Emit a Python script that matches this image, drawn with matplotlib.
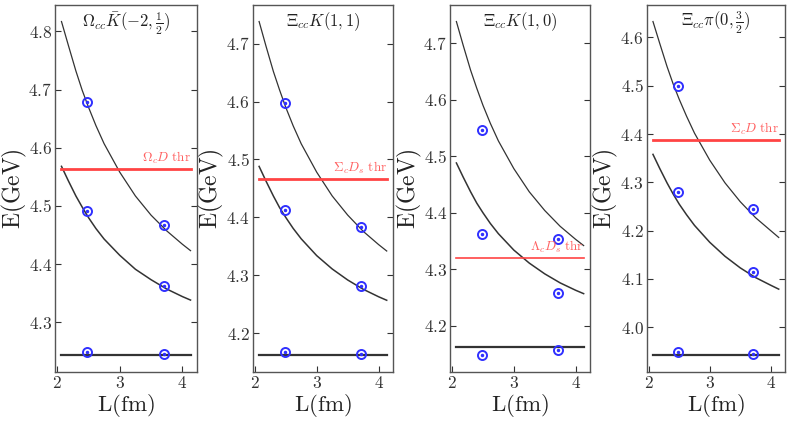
import matplotlib
matplotlib.use("Agg")
import matplotlib.pyplot as plt
from matplotlib.ticker import MultipleLocator, FixedLocator, FuncFormatter

plt.rcParams['mathtext.fontset'] = 'cm'
plt.rcParams['font.family'] = ['DejaVu Serif']

# ---------------- data ----------------
titles = [r'$\Omega_{cc}\bar{K}(-2,\frac{1}{2})$', r'$\Xi_{cc}K(1,1)$',
          r'$\Xi_{cc}K(1,0)$', r'$\Xi_{cc}\pi(0,\frac{3}{2})$']
thr_labels = [r'$\Omega_c D\ \mathrm{thr}$', r'$\Sigma_c D_s\ \mathrm{thr}$',
              r'$\Lambda_c D_s\ \mathrm{thr}$', r'$\Sigma_c D\ \mathrm{thr}$']
thr_values = [4.563, 4.466, 4.320, 4.3875]

L_points = [2.48, 3.71]
pts_p1 = [[4.679, 4.492, 4.248], [4.467, 4.363, 4.245]]
pts_p2 = [[4.598, 4.413, 4.168], [4.384, 4.281, 4.164]]
pts_p3 = [[4.546, 4.363, 4.148], [4.354, 4.258, 4.157]]
pts_p4 = [[4.500, 4.280, 3.949], [4.245, 4.115, 3.944]]
points = [pts_p1, pts_p2, pts_p3, pts_p4]

thresh_line = [4.243, 4.162, 4.162, 3.942]

L_curve = [2.07, 2.18, 2.3, 2.4, 2.5, 2.62, 2.75, 3.0, 3.25, 3.5, 3.75, 4.0, 4.13]
c1_lo = [4.568, 4.543, 4.517, 4.498, 4.480, 4.461, 4.443, 4.415, 4.391, 4.373, 4.357, 4.344, 4.338]
c1_hi = [4.817, 4.776, 4.732, 4.699, 4.670, 4.638, 4.607, 4.558, 4.517, 4.484, 4.457, 4.434, 4.423]
c2_lo = [4.488, 4.463, 4.437, 4.417, 4.400, 4.381, 4.363, 4.334, 4.311, 4.292, 4.276, 4.263, 4.257]
c2_hi = [4.738, 4.696, 4.652, 4.620, 4.590, 4.558, 4.527, 4.478, 4.437, 4.404, 4.376, 4.353, 4.342]
c4_lo = [4.358, 4.329, 4.299, 4.276, 4.255, 4.233, 4.211, 4.176, 4.147, 4.123, 4.103, 4.087, 4.079]
c4_hi = [4.633, 4.588, 4.540, 4.504, 4.472, 4.437, 4.402, 4.346, 4.299, 4.260, 4.227, 4.200, 4.186]
curves = [(c1_lo, c1_hi), (c2_lo, c2_hi), (c2_lo, c2_hi), (c4_lo, c4_hi)]

# ---------------- layout ----------------
W, H = 793, 422
fig = plt.figure(figsize=(W / 100, H / 100), dpi=100)
lefts = [0.0694, 0.3187, 0.5675, 0.8155]
widths = [0.179, 0.177, 0.1765, 0.1744]
bottom, height = 0.1185, 0.870
thr_lw = [2.0, 2.0, 1.2, 2.0]
red = '#ff4444'

for i in range(4):
    ax = fig.add_axes([lefts[i], bottom, widths[i], height])
    lo, hi = curves[i]
    ax.plot(L_curve, hi, color='#333333', lw=0.9)
    ax.plot(L_curve, lo, color='#333333', lw=1.1)
    ax.plot([L_curve[0], L_curve[-1]], [thresh_line[i]] * 2, color='#333333', lw=1.6)
    ax.plot([L_curve[0], L_curve[-1]], [thr_values[i]] * 2, color=red, lw=thr_lw[i])
    for j, L in enumerate(L_points):
        ys = points[i][j]
        ax.plot([L] * len(ys), ys, linestyle='none', marker='o', ms=6.5,
                mfc='none', mec='#3030ff', mew=1.4)
        ax.plot([L] * len(ys), ys, linestyle='none', marker='o', ms=1.5,
                mfc='#3030ff', mec='#3030ff')
    y0, y1 = ax.get_ylim()
    ax.text(L_curve[-1], thr_values[i] + 0.008 * (y1 - y0),
            thr_labels[i], color='#ff6060', fontsize=9.5, ha='right', va='bottom')
    ax.text(0.5, 0.985, titles[i], transform=ax.transAxes, ha='center', va='top',
            fontsize=12, color='#222222')
    ax.xaxis.set_major_locator(FixedLocator([2, 3, 4]))
    ax.yaxis.set_major_locator(MultipleLocator(0.1))
    ax.xaxis.set_major_formatter(FuncFormatter(lambda v, p: f'${v:.0f}$'))
    ax.yaxis.set_major_formatter(FuncFormatter(lambda v, p: f'${v:.1f}$'))
    ax.tick_params(direction='in', right=True, top=False, labelsize=12.5,
                   colors='#333333', length=4, width=0.8, pad=2)
    for s in ax.spines.values():
        s.set_color('#555555')
        s.set_linewidth(1.0)
    ax_w_px = widths[i] * W
    ax_h_px = height * H
    ax.set_xlabel(r'$\mathrm{L(fm)}$', fontsize=16.5, color='#222222')
    ax.set_ylabel(r'$\mathrm{E(GeV)}$', fontsize=17, color='#222222')
    ax.xaxis.set_label_coords(0.5, -34 / ax_h_px)
    ax.xaxis.label.set_va('center')
    ax.yaxis.set_label_coords(-41 / ax_w_px, 0.5)
    ax.yaxis.label.set_va('center')

fig.savefig('out.png', dpi=100)
